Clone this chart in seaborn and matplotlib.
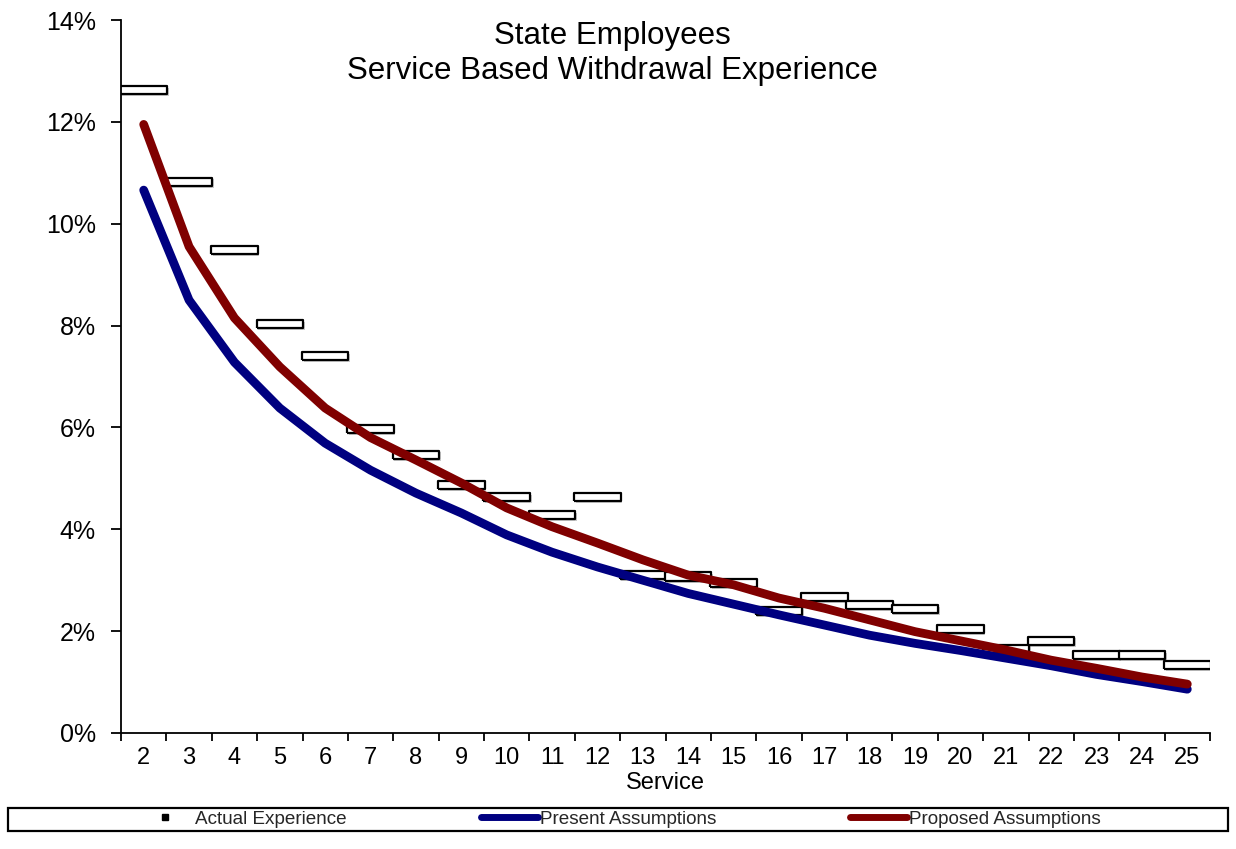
import matplotlib
matplotlib.use("Agg")
import matplotlib.pyplot as plt
import matplotlib.patheffects as pe
from matplotlib.lines import Line2D
from matplotlib.patches import Rectangle
from matplotlib.ticker import FixedLocator, PercentFormatter
import numpy as np
import pandas as pd
import seaborn as sns

# ---- data ----
service = [str(s) for s in range(2, 26)]
actual = [12.62, 10.82, 9.48, 8.03, 7.40, 5.97, 5.46, 4.87, 4.63, 4.28, 4.63, 3.10,
          3.07, 2.95, 2.40, 2.67, 2.51, 2.43, 2.04, 1.65, 1.81, 1.53, 1.53, 1.34]
present = [10.66, 8.50, 7.28, 6.38, 5.69, 5.16, 4.71, 4.32, 3.89, 3.55, 3.26, 3.00,
           2.74, 2.53, 2.32, 2.12, 1.92, 1.76, 1.62, 1.47, 1.32, 1.15, 1.01, 0.86]
proposed = [11.95, 9.55, 8.15, 7.19, 6.38, 5.80, 5.36, 4.91, 4.42, 4.05, 3.73, 3.40,
            3.10, 2.91, 2.65, 2.45, 2.22, 1.99, 1.81, 1.63, 1.43, 1.27, 1.10, 0.96]
y_ticks = [0, 2, 4, 6, 8, 10, 12, 14]

title = "State Employees\nService Based Withdrawal Experience"
labels = ["Actual Experience", "Present Assumptions", "Proposed Assumptions"]

df = pd.DataFrame({"pos": np.arange(len(service)), "service": service,
                   "actual": actual, "present": present, "proposed": proposed})

sns.set_theme(style="white")
plt.rcParams["font.family"] = ["Liberation Sans", "DejaVu Sans"]

fig = plt.figure(figsize=(12.36, 8.49), dpi=100)
ax = fig.add_axes([121 / 1236, 1 - 733 / 849, (1210 - 121) / 1236, (733 - 20) / 849])

NAVY = "#000080"
MAROON = "#800000"

rect_marker = [(-1, -0.18), (1, -0.18), (1, 0.18), (-1, 0.18), (-1, -0.18)]
sns.scatterplot(data=df, x="pos", y="actual", ax=ax, marker=rect_marker, s=33.5 ** 2,
                color="white", edgecolor="black", linewidth=1.6, zorder=2, legend=False)
for coll in ax.collections:
    coll.set_path_effects([pe.SimplePatchShadow(offset=(1.2, -1.2), shadow_rgbFace="#888888", alpha=0.45),
                           pe.Normal()])

sns.lineplot(data=df, x="pos", y="present", ax=ax, color=NAVY, linewidth=6.3,
             solid_capstyle="round", solid_joinstyle="round", zorder=3, legend=False)
sns.lineplot(data=df, x="pos", y="proposed", ax=ax, color=MAROON, linewidth=6.3,
             solid_capstyle="round", solid_joinstyle="round", zorder=4, legend=False)

ax.set_xlim(-0.5, len(service) - 0.5)
ax.set_ylim(0, 14)
ax.set_xticks(df["pos"])
ax.set_xticklabels(service)
ax.xaxis.set_minor_locator(FixedLocator(np.arange(-0.5, len(service), 1.0)))
ax.set_yticks(y_ticks)
ax.yaxis.set_major_formatter(PercentFormatter(decimals=0))

for side in ["top", "right"]:
    ax.spines[side].set_visible(False)
for side in ["left", "bottom"]:
    ax.spines[side].set_color("black")
    ax.spines[side].set_linewidth(1.3)

ax.tick_params(axis="x", which="major", length=0, pad=10, labelsize=17, colors="black")
ax.tick_params(axis="x", which="minor", length=6, width=1.3, direction="out", color="black", bottom=True)
ax.tick_params(axis="y", which="major", length=7, width=1.3, direction="out", labelsize=18,
               colors="black", left=True, pad=11)
ax.set_xlabel("Service", fontsize=17, labelpad=2, color="black")
ax.set_ylabel("")
ax.grid(False)

fig.text(612 / 1236, 1 - 21 / 849, title, ha="center", va="top",
         fontsize=22.5, color="black", linespacing=1.22)

# legend
handles = [Line2D([], [], marker="s", color="black", linestyle="none", markersize=4),
           Line2D([], [], color=NAVY, linewidth=5, solid_capstyle="round"),
           Line2D([], [], color=MAROON, linewidth=5, solid_capstyle="round")]
fig.legend(handles, labels, loc="center left", bbox_to_anchor=(133 / 1236, 1 - 819 / 849),
           ncol=3, frameon=False, fontsize=13.6, handlelength=3.0, handletextpad=0.1,
           columnspacing=7.1, borderpad=0.2, borderaxespad=0)
fig.patches.append(Rectangle((8 / 1236, 1 - 831 / 849), 1220 / 1236, 23 / 849,
                             transform=fig.transFigure, fill=False, edgecolor="black",
                             linewidth=1.6, zorder=10))

fig.savefig("out.png", dpi=100)
